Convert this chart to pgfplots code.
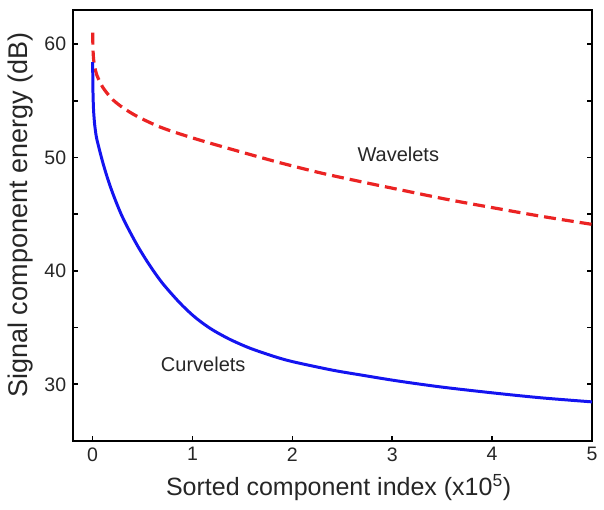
\documentclass[border=0pt]{standalone}
\usepackage{fontspec}
\setmainfont{Liberation Sans}
\usepackage{pgfplots}
\pgfplotsset{compat=1.18}
\definecolor{wred}{RGB}{235,35,35}
\definecolor{cblue}{RGB}{20,20,240}
\begin{document}
\begin{tikzpicture}
\useasboundingbox (-72.7bp,-69bp) rectangle (531.3bp,441bp);
\begin{axis}[
  at={(0,0)}, anchor=south west,
  scale only axis, width=519.3bp, height=431bp,
  xmin=-0.2, xmax=5, ymin=25, ymax=63,
  axis line style={line width=2.2pt},
  xtick={0,1,2,3,4,5},
  ytick={30,35,40,45,50,55,60},
  yticklabels={30,,40,,50,,60},
  xtick pos=bottom, ytick pos=both,
  tick align=inside,
  major tick length=5bp,
  tick style={line width=1.6pt, black},
  /pgf/number format/assume math mode=true,
  tick label style={font=\fontsize{19.5bp}{20bp}\selectfont, text=black!85},
  xticklabel style={yshift=-3bp},
  yticklabel style={xshift=-3bp},
  xlabel={Sorted component index (x10\textsuperscript{5})},
  ylabel={Signal component energy (dB)},
  xlabel style={font=\fontsize{25bp}{26bp}\selectfont, text=black!85, at={(axis description cs:0.512,-0.1276)}, anchor=base},
  ylabel style={font=\fontsize{27bp}{28bp}\selectfont, text=black!85, at={(axis description cs:-0.0867,0.524)}, anchor=base},
  clip=false,
]
\addplot[color=wred, line width=3.2pt, dash pattern=on 12bp off 6bp, smooth, tension=0.5] coordinates {
(0,61.0) (0.002,60.0) (0.005,59.2) (0.01,58.6) (0.02,58.0) (0.04,57.3) (0.07,56.7)
(0.1,56.2) (0.15,55.6) (0.2,55.1) (0.3,54.4) (0.45,53.6) (0.67,52.7) (0.9,52.0)
(1.16,51.3) (1.56,50.3) (1.89,49.5) (2.3,48.6) (2.72,47.8) (3.05,47.2) (3.55,46.3)
(4.05,45.5) (4.5,44.8) (5.0,44.1)
};
\addplot[color=cblue, line width=3.0pt, smooth, tension=0.5] coordinates {
(0,58.4) (0.001,57.2) (0.003,55.8) (0.006,54.8) (0.01,54.0) (0.02,52.9) (0.035,51.9)
(0.05,51.3) (0.07,50.6) (0.1,49.6) (0.13,48.7) (0.17,47.6) (0.22,46.4) (0.28,45.1)
(0.34,44.0) (0.45,42.2) (0.57,40.5) (0.7,38.9) (0.87,37.2) (1.0,36.1) (1.1,35.4)
(1.2,34.8) (1.3,34.3) (1.4,33.85) (1.57,33.2) (1.8,32.5) (2.0,32.0) (2.4,31.25)
(2.7,30.8) (3.05,30.3) (3.5,29.75) (4.05,29.2) (4.5,28.8) (5.0,28.45)
};
\node[anchor=base, font=\fontsize{20bp}{21bp}\selectfont, text=black!85] at (axis cs:3.06,49.62) {Wavelets};
\node[anchor=base, font=\fontsize{20bp}{21bp}\selectfont, text=black!85] at (axis cs:1.107,31.09) {Curvelets};
\end{axis}
\end{tikzpicture}
\end{document}
